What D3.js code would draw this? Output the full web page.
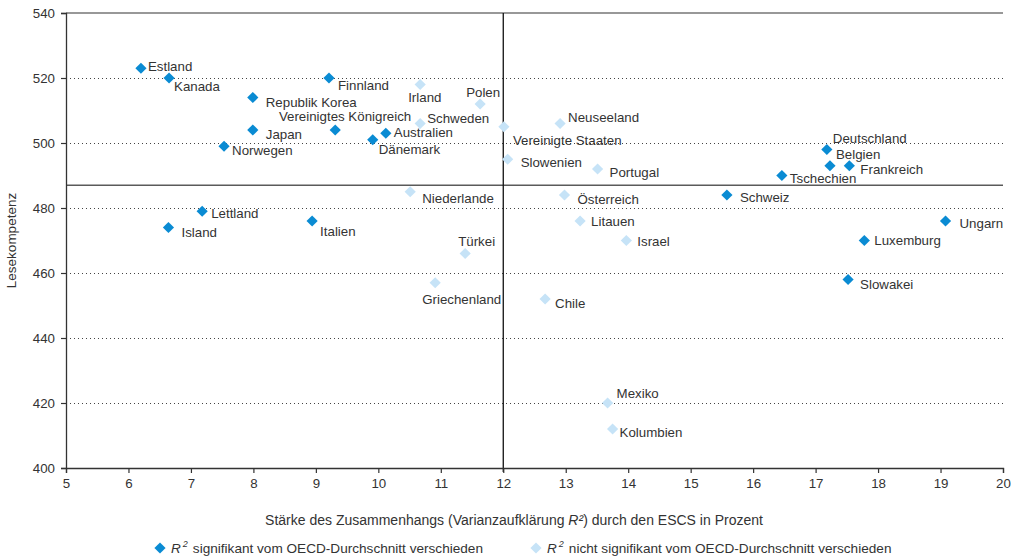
<!DOCTYPE html>
<html>
<head>
<meta charset="utf-8">
<script src="https://cdn.jsdelivr.net/npm/d3@7"></script>
<style>
  html, body { margin: 0; padding: 0; background: #fff; }
  svg { display: block; font-family: "Liberation Sans", Arial, sans-serif; }
</style>
</head>
<body>
<svg id="chart" width="1014" height="557"></svg>
<script>
// ---- Data ----
const countries = ["Estland","Kanada","Republik Korea","Japan","Norwegen","Finnland","Vereinigtes Königreich","Dänemark","Australien","Irland","Schweden","Polen","Vereinigte Staaten","Slowenien","Neuseeland","Portugal","Deutschland","Belgien","Frankreich","Tschechien","Schweiz","Niederlande","Österreich","Lettland","Island","Italien","Litauen","Israel","Türkei","Griechenland","Chile","Ungarn","Luxemburg","Slowakei","Mexiko","Kolumbien"];
const r2Values = [6.20,6.65,7.99,7.99,7.53,9.21,9.31,9.91,10.12,10.67,10.67,11.63,12.01,12.07,12.91,13.51,17.18,17.23,17.54,16.46,15.58,10.51,12.98,7.18,6.64,8.94,13.23,13.97,11.39,10.91,12.67,19.08,17.78,17.52,13.67,13.75];
const readingValues = [523,520,514,504,499,520,504,501,503,518,506,512,505,495,506,492,498,493,493,490,484,485,484,479,474,476,476,470,466,457,452,476,470,458,420,412];
const significant = [1,1,1,1,1,1,1,1,1,0,0,0,0,0,0,0,1,1,1,1,1,0,0,1,1,1,0,0,0,0,0,1,1,1,0,0];
const xTicks = [5,6,7,8,9,10,11,12,13,14,15,16,17,18,19,20];
const yTicks = [400,420,440,460,480,500,520,540];
const gridValues = [420,440,460,480,500,520];
const oecdR2 = 12;
const oecdReading = 487;
const legendLabels = ["signifikant vom OECD-Durchschnitt verschieden","nicht signifikant vom OECD-Durchschnitt verschieden"];

// label placement (pixel offsets from the point)
const labelLayout = {
  "Estland":[7,3,"start"],"Kanada":[5,13,"start"],"Republik Korea":[13,9,"start"],"Japan":[13,9,"start"],
  "Norwegen":[8,9,"start"],"Finnland":[9,12,"start"],"Vereinigtes Königreich":[76,-9,"end"],"Dänemark":[6,14,"start"],
  "Australien":[8,4,"start"],"Irland":[-12,17,"start"],"Schweden":[7,-1,"start"],"Polen":[-14,-7,"start"],
  "Vereinigte Staaten":[9,18,"start"],"Slowenien":[13,8,"start"],"Neuseeland":[8,-2,"start"],"Portugal":[12,8,"start"],
  "Deutschland":[6,-7,"start"],"Belgien":[6,-7,"start"],"Frankreich":[11,8,"start"],"Tschechien":[8,7,"start"],
  "Schweiz":[13,7,"start"],"Niederlande":[12,11,"start"],"Österreich":[13,9,"start"],"Lettland":[9,7,"start"],
  "Island":[13,9,"start"],"Italien":[8,15,"start"],"Litauen":[11,5,"start"],"Israel":[11,5,"start"],
  "Türkei":[-7,-8,"start"],"Griechenland":[-13,21,"start"],"Chile":[10,9,"start"],"Ungarn":[14,7,"start"],
  "Luxemburg":[10,4,"start"],"Slowakei":[12,9,"start"],"Mexiko":[9,-5,"start"],"Kolumbien":[7,8,"start"]
};

(function(){
const data = countries.map((c,i)=>({name:c, x:r2Values[i], y:readingValues[i], sig:significant[i]}));

// ---- Layout ----
const svg = d3.select("#chart");
const mLeft = 66, mRight = 1003, mTop = 13, mBottom = 468;
const x = d3.scaleLinear().domain([5,20]).range([mLeft,mRight]);
const y = d3.scaleLinear().domain([400,540]).range([mBottom,mTop]);
const darkBlue = "#0a8bd3", lightBlue = "#c6e3f7", textCol = "#333";
const diamond = "M0,-5.6L5.6,0L0,5.6L-5.6,0Z";

// grid
svg.append("g").selectAll("line").data(gridValues).join("line")
  .attr("x1", mLeft).attr("x2", mRight)
  .attr("y1", d=>y(d)+0.5).attr("y2", d=>y(d)+0.5)
  .attr("stroke", "#444").attr("stroke-width", 1).attr("stroke-dasharray", "1,3");

// top border
svg.append("line").attr("x1", mLeft).attr("x2", mRight).attr("y1", y(540)).attr("y2", y(540))
  .attr("stroke", "#333").attr("stroke-width", 1.2);

// reference lines
svg.append("line").attr("x1", mLeft).attr("x2", mRight).attr("y1", y(oecdReading)).attr("y2", y(oecdReading))
  .attr("stroke", "#5a5a5a").attr("stroke-width", 1.5);
svg.append("line").attr("x1", x(oecdR2)).attr("x2", x(oecdR2)).attr("y1", mTop).attr("y2", mBottom+4)
  .attr("stroke", "#111").attr("stroke-width", 1.3);

// axes
const xAxis = svg.append("g").attr("transform", `translate(0,${mBottom})`)
  .call(d3.axisBottom(x).tickValues(xTicks).tickSize(5).tickPadding(6).tickFormat(d3.format("d")));
const yAxis = svg.append("g").attr("transform", `translate(${mLeft},0)`)
  .call(d3.axisLeft(y).tickValues(yTicks).tickSize(5).tickPadding(6).tickFormat(d3.format("d")));
[xAxis, yAxis].forEach(g=>{
  g.select(".domain").attr("stroke", "#333").attr("stroke-width", 1.3);
  g.selectAll(".tick line").attr("stroke", "#333").attr("stroke-width", 1.2);
  g.selectAll(".tick text").attr("fill", textCol).attr("font-size", 13.3)
    .attr("font-family", "'Liberation Sans', Arial, sans-serif");
});

// points
svg.append("g").selectAll("path").data(data).join("path")
  .attr("d", diamond)
  .attr("transform", d=>`translate(${x(d.x)},${y(d.y)})`)
  .attr("fill", d=>d.sig ? darkBlue : lightBlue);

// labels
svg.append("g").selectAll("text").data(data).join("text")
  .attr("x", d=>x(d.x)+labelLayout[d.name][0])
  .attr("y", d=>y(d.y)+labelLayout[d.name][1])
  .attr("text-anchor", d=>labelLayout[d.name][2])
  .attr("font-size", 13.3).attr("fill", textCol)
  .text(d=>d.name);

// axis titles
const xt = svg.append("text").attr("x", 514).attr("y", 525).attr("text-anchor", "middle")
  .attr("font-size", 14).attr("fill", textCol);
xt.append("tspan").text("Stärke des Zusammenhangs (Varianzaufklärung ");
xt.append("tspan").attr("font-style", "italic").text("R²");
xt.append("tspan").text(") durch den ESCS in Prozent");

svg.append("text").attr("transform", `translate(16,${(mTop+mBottom)/2}) rotate(-90)`)
  .attr("text-anchor", "middle").attr("font-size", 13.5).attr("fill", textCol).text("Lesekompetenz");

// legend
const legendX = [160, 536];
const lg = svg.append("g").selectAll("g").data(legendLabels).join("g")
  .attr("transform", (d,i)=>`translate(${legendX[i]},548)`);
lg.append("path").attr("d", diamond).attr("fill", (d,i)=> i===0 ? darkBlue : lightBlue);
const lt = lg.append("text").attr("x", 11).attr("y", 5).attr("font-size", 13.6).attr("fill", textCol);
lt.append("tspan").attr("font-style", "italic").text("R");
lt.append("tspan").attr("font-size", 9).attr("dy", -6).attr("dx", 2).attr("font-style", "italic").text("2");
lt.append("tspan").attr("dy", 6).attr("dx", 5).text(d=>d);
})();
</script>
</body>
</html>
